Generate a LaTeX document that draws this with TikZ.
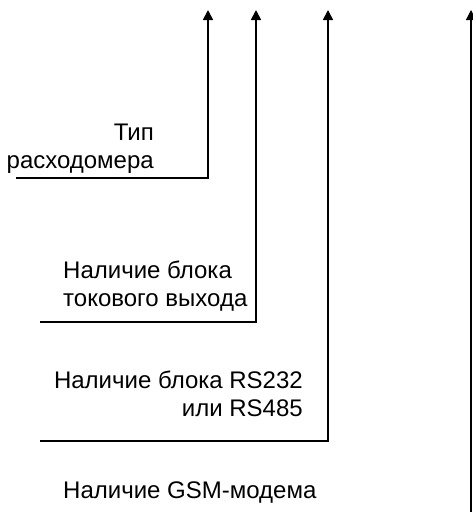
\documentclass[tikz,border=0pt]{standalone}
\usepackage{fontspec}
\setmainfont{Liberation Sans}
\usetikzlibrary{
    arrows.meta,
    positioning
}
\tikzset{
    lbl/.style={inner sep=0pt, font=\fontsize{24}{28}\selectfont},
    feed/.style={line width=1.7pt, -{Triangle[width=10pt,length=10pt]}},
    thinfeed/.style={line width=1.2pt, -{Triangle[width=10pt,length=10pt]}}
}

\begin{document}
\begin{tikzpicture}[x=1pt,y=-1pt]
        \useasboundingbox (0,0) rectangle (472,512);

        \draw (154,168) node[lbl, anchor=base east, align=right](type){Тип\\расходомера};
        \draw (63,306) node[lbl, anchor=base west, align=left](curr){Наличие блока\\токового выхода};
        \draw (303,416) node[lbl, anchor=base east, align=right](rs){Наличие блока RS232\\или RS485};
        \draw (63,498) node[lbl, anchor=base west](gsm){Наличие GSM-модема};

        \coordinate (e1) at (16,178);  \coordinate (c1) at (208,178); \coordinate (t1) at (208,10);
        \coordinate (e2) at (40,322);  \coordinate (c2) at (256,322); \coordinate (t2) at (256,10);
        \coordinate (e3) at (40,441);  \coordinate (c3) at (328,441); \coordinate (t3) at (328,10);
        \coordinate (e4) at (471,515); \coordinate (t4) at (471,10);

        \draw[feed] (e1) -- (c1) -- (t1);
        \draw[feed] (e2) -- (c2) -- (t2);
        \draw[feed] (e3) -- (c3) -- (t3);
        \draw[thinfeed] (e4) -- (t4);
    \end{tikzpicture}
\end{document}
